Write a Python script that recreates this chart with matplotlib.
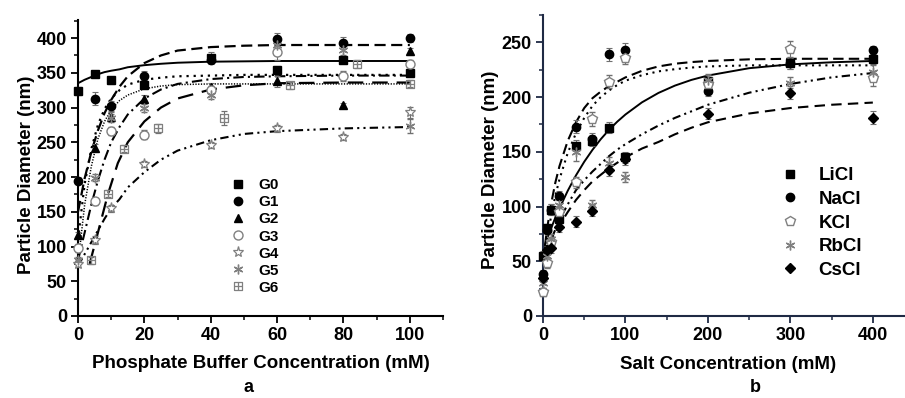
import numpy as np
import matplotlib.pyplot as plt
from matplotlib.path import Path
from matplotlib.lines import Line2D

plt.rcParams['font.family'] = ['Liberation Sans', 'DejaVu Sans']
plt.rcParams['font.weight'] = 'bold'

# ---------------- panel a: phosphate buffer ----------------
groups = ['G0', 'G1', 'G2', 'G3', 'G4', 'G5', 'G6']
conc_a = [0, 5, 10, 20, 40, 60, 80, 100]
conc_g6 = [4, 9, 14, 24, 44, 64, 84, 100]
size_a = {
    'G0': [324, 349, 339, 333, 372, 354, 369, 350],
    'G1': [195, 313, 302, 346, 368, 398, 393, 400],
    'G2': [116, 242, 287, 312, 330, 338, 303, 381],
    'G3': [98, 165, 266, 261, 325, 380, 345, 362],
    'G4': [75, 109, 155, 219, 246, 270, 258, 293],
    'G5': [80, 199, 285, 299, 318, 390, 383, 273],
    'G6': [80, 176, 241, 270, 285, 332, 363, 334],
}
err_a = {
    'G0': [6, 4, 5, 6, 8, 6, 5, 5],
    'G1': [5, 9, 7, 6, 6, 10, 9, 6],
    'G2': [5, 5, 6, 6, 6, 8, 4, 5],
    'G3': [6, 5, 6, 6, 6, 12, 7, 6],
    'G4': [5, 6, 5, 4, 4, 5, 4, 8],
    'G5': [5, 5, 6, 6, 6, 8, 8, 10],
    'G6': [5, 5, 5, 6, 10, 5, 6, 5],
}
# fitted curves, values
fit_x_a = [0, 2, 4, 6, 8, 10, 12.5, 15, 20, 25, 30, 40, 50, 60, 80, 100]
fit_a = {
    'G0': [335, 340, 344, 348, 351, 353, 355, 358, 361, 363, 364.5, 366, 366.5, 367, 367, 367],
    'G1': [150, 198, 236, 267, 292, 311, 330, 345, 364, 375, 382, 387, 389, 390, 390, 390],
    'G2': [110, 190, 240, 275, 298, 313, 325, 333, 340, 343, 345, 346, 347, 347, 347, 347],
    'G3': [75, 160, 215, 255, 280, 297, 310, 318, 327, 331, 333, 334, 334, 334, 334, 334],
    'G4': [72, 89, 106, 123, 140, 155, 168, 185, 207, 225, 238, 253, 262, 266, 270, 272],
    'G5': [80, 120, 160, 195, 225, 250, 272, 290, 313, 326, 334, 341, 344, 345, 346, 346],
}
fit_x_g6 = [3.5, 6, 9, 12, 15, 20, 25, 30, 40, 50, 60, 80, 100]
fit_g6 = [75, 120, 175, 220, 250, 280, 300, 313, 326, 332, 335, 336, 336]

# ---------------- panel b: salts ----------------
salts = ['LiCl', 'NaCl', 'KCl', 'RbCl', 'CsCl']
conc_b = [0, 5, 10, 20, 40, 60, 80, 100, 200, 300, 400]
size_b = {
    'LiCl': [55, 80, 97, 89, 155, 160, 172, 145, 215, 231, 235],
    'NaCl': [38, 79, 97, 110, 173, 162, 239, 243, 206, 231, 243],
    'KCl': [22, 48, 68, 95, 122, 180, 214, 236, 212, 244, 217],
    'RbCl': [30, 55, 70, 101, 150, 101, 140, 127, 216, 213, 223],
    'CsCl': [35, 60, 62, 81, 86, 96, 133, 143, 185, 204, 181],
}
err_b = {
    'LiCl': [4, 4, 5, 4, 6, 5, 5, 5, 5, 5, 5],
    'NaCl': [4, 4, 5, 4, 6, 5, 6, 6, 5, 5, 4],
    'KCl': [4, 4, 4, 5, 5, 6, 6, 6, 6, 7, 7],
    'RbCl': [4, 4, 5, 5, 8, 5, 5, 5, 5, 5, 6],
    'CsCl': [4, 4, 4, 4, 5, 5, 5, 5, 5, 6, 6],
}
fit_x_b = [0, 5, 10, 15, 20, 30, 40, 50, 60, 70, 80, 90, 100, 120, 140, 160, 180, 200, 250, 300, 350, 400]
fit_b = {
    'LiCl': [60, 70.5, 80.4, 90, 98.5, 114.4, 128.5, 140.9, 151.8, 161.5, 170, 177.5, 184.1,
             195.2, 203.8, 210.5, 215.7, 219.7, 226.4, 229.9, 231.8, 233],
    'NaCl': [50, 80, 103, 122, 137, 160, 177, 190, 199, 205, 210, 214, 218,
             224, 228, 230.5, 232, 233, 234.5, 235, 235, 235],
    'KCl': [45, 70, 92, 110, 125, 149, 167, 181, 192, 200, 206, 211, 215,
            220, 223.5, 225.5, 227, 228, 229, 229, 229, 229],
    'RbCl': [50, 60, 70, 79, 88, 102, 115, 124, 132, 139, 146, 152, 157,
             166, 174, 181, 187, 193, 204, 212, 218, 222],
    'CsCl': [50, 59, 67, 75, 83, 95, 106, 115, 123, 129, 135, 140, 145,
             153, 159, 166, 172, 177, 185, 190, 193, 195],
}

# square with a plus inside
boxplus = Path([(-1, -1), (1, -1), (1, 1), (-1, 1), (-1, -1), (0, -1), (0, 1), (-1, 0), (1, 0)],
               [Path.MOVETO, Path.LINETO, Path.LINETO, Path.LINETO, Path.LINETO,
                Path.MOVETO, Path.LINETO, Path.MOVETO, Path.LINETO])
GRAY = '#808080'

style_a = {
    'G0': dict(marker='s', mfc='k', mec='k', ms=5.5),
    'G1': dict(marker='o', mfc='k', mec='k', ms=6),
    'G2': dict(marker='^', mfc='k', mec='k', ms=6),
    'G3': dict(marker='o', mfc='white', mec=GRAY, ms=6.5, mew=1.0),
    'G4': dict(marker='*', mfc='white', mec=GRAY, ms=8, mew=0.9),
    'G5': dict(marker=(6, 2, 0), mfc='none', mec=GRAY, ms=7, mew=1.0),
    'G6': dict(marker=boxplus, mfc='none', mec=GRAY, ms=6, mew=0.9),
}
line_a = {
    'G0': dict(ls='-', lw=1.4),
    'G1': dict(ls=(0, (5, 2.5)), lw=1.6),
    'G2': dict(ls=(0, (1, 2.2)), lw=1.6),
    'G3': dict(ls=(0, (0.8, 1.0)), lw=1.1),
    'G4': dict(ls=(0, (4, 2, 1, 2, 1, 2)), lw=1.5),
    'G5': dict(ls=(0, (5, 2, 1, 2)), lw=1.5),
}
style_b = {
    'LiCl': dict(marker='s', mfc='k', mec='k', ms=5.5),
    'NaCl': dict(marker='o', mfc='k', mec='k', ms=6),
    'KCl': dict(marker='p', mfc='white', mec=GRAY, ms=7, mew=1.0),
    'RbCl': dict(marker=(6, 2, 0), mfc='none', mec=GRAY, ms=7, mew=1.0),
    'CsCl': dict(marker='D', mfc='k', mec='k', ms=5),
}
line_b = {
    'LiCl': dict(ls='-', lw=1.4),
    'NaCl': dict(ls=(0, (5, 2.5)), lw=1.5),
    'KCl': dict(ls=(0, (1, 2.2)), lw=1.5),
    'RbCl': dict(ls=(0, (4, 2, 1, 2, 1, 2)), lw=1.5),
    'CsCl': dict(ls=(0, (5, 3)), lw=1.5),
}


def style_axes(ax, spine_color):
    for s in ['top', 'right']:
        ax.spines[s].set_visible(False)
    for s in ['left', 'bottom']:
        ax.spines[s].set_linewidth(1.5)
        ax.spines[s].set_color(spine_color)
    ax.tick_params(which='major', direction='out', length=5, width=1.3,
                   labelsize=13, colors=spine_color, labelcolor='k', pad=3)
    ax.tick_params(which='minor', direction='out', length=3, width=1.1, colors=spine_color)
    for lab in ax.get_xticklabels() + ax.get_yticklabels():
        lab.set_fontweight('bold')


fig = plt.figure(figsize=(9.05, 3.98), dpi=100)

# ----- panel a -----
ax = fig.add_axes([78 / 905, 1 - 316 / 398, 365 / 905, 296 / 398])
for g in groups:
    if g == 'G6':
        ax.plot(fit_x_g6, fit_g6, color='k', ls=(0, (7, 4)), lw=1.6, zorder=2)
    else:
        ax.plot(fit_x_a, fit_a[g], color='k', zorder=2, **line_a[g])
for g in groups:
    xs = conc_g6 if g == 'G6' else conc_a
    ax.errorbar(xs, size_a[g], yerr=err_a[g], ls='none', ecolor='#707070',
                elinewidth=0.8, capsize=2.5, capthick=0.8, clip_on=False, zorder=3,
                label=g, **style_a[g])
ax.set_xlim(0, 110)
ax.set_ylim(0, 426)
ax.set_xticks(np.arange(0, 101, 20))
ax.set_xticks(np.arange(0, 111, 10), minor=True)
ax.set_yticks(np.arange(0, 401, 50))
ax.set_yticks(np.arange(0, 426, 25), minor=True)
style_axes(ax, 'k')
ax.set_xlabel('Phosphate Buffer Concentration (mM)', fontsize=13.5, fontweight='bold')
ax.set_ylabel('Particle Diameter (nm)', fontsize=13.5, fontweight='bold')
ax.xaxis.set_label_coords(0.50, -0.132)
ax.yaxis.set_label_coords(-0.117, 0.476)
handles = [Line2D([], [], ls='none', **style_a[g]) for g in groups]
ax.legend(handles, groups, loc='upper left', bbox_to_anchor=(0.4175, 0.465),
          frameon=False, fontsize=11, handlelength=1.0, handletextpad=0.8,
          labelspacing=0.2, borderpad=0, borderaxespad=0)
fig.text(248 / 905, 1 - 388 / 398, 'a', fontsize=13, fontweight='bold', ha='center', va='center')

# ----- panel b -----
NAVY = '#1f2a44'
ax = fig.add_axes([543 / 905, 1 - 316 / 398, 362 / 905, 301 / 398])
for s in salts:
    ax.plot(fit_x_b, fit_b[s], color='k', zorder=2, **line_b[s])
for s in salts:
    ax.errorbar(conc_b, size_b[s], yerr=err_b[s], ls='none', ecolor='#707070',
                elinewidth=0.8, capsize=2.5, capthick=0.8, clip_on=False, zorder=3,
                **style_b[s])
ax.set_xlim(0, 439)
ax.set_ylim(0, 275)
ax.set_xticks(np.arange(0, 401, 100))
ax.set_xticks(np.arange(0, 439, 50), minor=True)
ax.set_yticks(np.arange(0, 251, 50))
ax.set_yticks(np.arange(0, 276, 25), minor=True)
style_axes(ax, NAVY)
ax.set_xlabel('Salt Concentration (mM)', fontsize=13.5, fontweight='bold')
ax.set_ylabel('Particle Diameter (nm)', fontsize=13.5, fontweight='bold')
ax.xaxis.set_label_coords((728 - 543) / 362, -0.132)
ax.yaxis.set_label_coords(-0.122, 0.485)
handles = [Line2D([], [], ls='none', **style_b[s]) for s in salts]
ax.legend(handles, salts, loc='upper left', bbox_to_anchor=(0.657, 0.495),
          frameon=False, fontsize=13.5, handlelength=1.0, handletextpad=1.0,
          labelspacing=0.35, borderpad=0, borderaxespad=0)
fig.text(755 / 905, 1 - 388 / 398, 'b', fontsize=13, fontweight='bold', ha='center', va='center')

fig.savefig('out.png', dpi=100)
